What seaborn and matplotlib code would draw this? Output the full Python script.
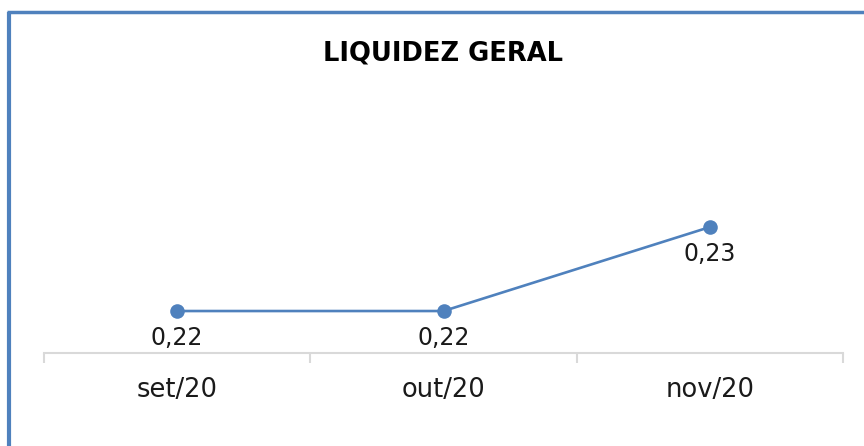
import matplotlib
matplotlib.use("Agg")
import matplotlib.pyplot as plt
import seaborn as sns
import pandas as pd
from matplotlib.lines import Line2D

categories = ["set/20", "out/20", "nov/20"]
values = [0.22, 0.22, 0.23]
labels = ["0,22", "0,22", "0,23"]
title = "LIQUIDEZ GERAL"

sns.set_theme(style="white")
plt.rcParams["font.family"] = ["DejaVu Sans"]

blue = "#4F81BD"
df = pd.DataFrame({"mes": categories, "valor": values})

fig = plt.figure(figsize=(8.64, 4.46), dpi=100)
ax = fig.add_axes([44 / 864, (446 - 353) / 446, 799 / 864, (353 - 60) / 446])

sns.lineplot(data=df, x="mes", y="valor", ax=ax, color=blue, linewidth=1.9,
             marker="o", markersize=10.5, markeredgewidth=0, sort=False)

ax.set_xlim(-0.5, len(categories) - 0.5)
ax.set_ylim(0.215, 0.2499)

for i, (v, lab) in enumerate(zip(values, labels)):
    ax.annotate(lab, (i, v), xytext=(0, -11), textcoords="offset points",
                ha="center", va="top", fontsize=17, color="#1a1a1a")

for s in ["top", "right", "left"]:
    ax.spines[s].set_visible(False)
ax.spines["bottom"].set_color("#D9D9D9")
ax.spines["bottom"].set_linewidth(1.5)
ax.set_yticks([])
ax.set_xticks(range(len(categories)))
ax.set_xticklabels(categories, fontsize=18.5, color="#1a1a1a")
ax.tick_params(axis="x", which="major", length=0, pad=17)
ax.set_xticks([i - 0.5 for i in range(len(categories) + 1)], minor=True)
ax.tick_params(axis="x", which="minor", length=7, width=1.5, color="#D9D9D9",
               direction="out", bottom=True)
ax.set_xlabel("")
ax.set_ylabel("")

fig.text(443 / 864, 1 - 53 / 446, title, ha="center", va="center",
         fontsize=18.5, fontweight="bold", color="#000000")

# outer frame (left and top edges visible)
fig.add_artist(Line2D([8.5 / 864, 8.5 / 864], [0, 1 - 12 / 446],
                      transform=fig.transFigure, color=blue, linewidth=3,
                      solid_capstyle="butt"))
fig.add_artist(Line2D([7 / 864, 1], [1 - 12 / 446, 1 - 12 / 446],
                      transform=fig.transFigure, color=blue, linewidth=2.5,
                      solid_capstyle="butt"))

fig.savefig("out.png", dpi=100)
